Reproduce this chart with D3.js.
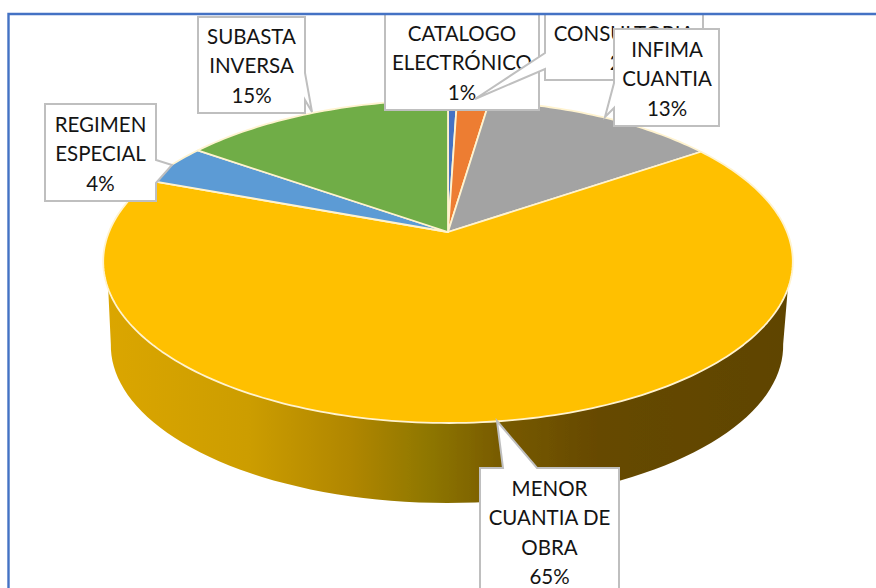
<!DOCTYPE html>
<html>
<head>
<meta charset="utf-8">
<script src="https://cdn.jsdelivr.net/npm/d3@7"></script>
<style>
  html, body { margin: 0; padding: 0; background: #fff; }
  svg { display: block; }
  .callout text { font-family: Lato, "Open Sans", sans-serif; font-size: 20.5px; fill: #141414; text-anchor: middle; }
</style>
</head>
<body>
<div id="chart"></div>
<script>
// data, slice sizes estimated from the drawn angles
var categories = ['CATALOGO ELECTRÓNICO', 'CONSULTORIA', 'INFIMA CUANTIA', 'MENOR CUANTIA DE OBRA', 'REGIMEN ESPECIAL', 'SUBASTA INVERSA'];
var values = [0.5, 1.8, 13.1, 65.3, 4.1, 15.2];
var percentLabels = ['1%', '2%', '13%', '65%', '4%', '15%'];
var colors = ['#4472c4', '#ed7d31', '#a3a3a3', '#ffc000', '#5b9bd5', '#70ad47'];
var labelLines = [
  ['CATALOGO', 'ELECTRÓNICO'],
  ['CONSULTORIA'],
  ['INFIMA', 'CUANTIA'],
  ['MENOR', 'CUANTIA DE', 'OBRA'],
  ['REGIMEN', 'ESPECIAL'],
  ['SUBASTA', 'INVERSA']
];

var width = 876, height = 588;

// callout boxes: x0,y0,x1,y1, pointer tip and the two pointer roots on the box edge
var calloutBoxes = [
  {x0: 385, y0: 14, x1: 539, y1: 110, textX: 462, textY: 41},
  {x0: 545, y0: 14, x1: 703, y1: 80, textX: 624, textY: 41, tip: [475, 99], root: [[545, 53], [545, 69]], side: 'left'},
  {x0: 614, y0: 29, x1: 719, y1: 126, textX: 667, textY: 57, tip: [605, 117], root: [[614, 83], [614, 108]], side: 'left'},
  {x0: 480, y0: 468, x1: 619, y1: 600, textX: 549.5, textY: 496, tip: [497, 421], root: [[503, 468], [537, 468]], side: 'top'},
  {x0: 45, y0: 104, x1: 156, y1: 201, textX: 100.5, textY: 132, tip: [172, 165], root: [[156, 160], [156, 183]], side: 'right'},
  {x0: 198, y0: 17, x1: 305, y1: 113, textX: 251.5, textY: 44, tip: [312, 112], root: [[305, 73], [305, 100]], side: 'right'}
];
var lineStep = 29.4;

var svg = d3.select('#chart').append('svg')
  .attr('width', width)
  .attr('height', height);

var defs = svg.append('defs');
defs.append('filter').attr('id', 'soft')
  .append('feGaussianBlur').attr('stdDeviation', 0.6);

// wall shading runs left to right
var wallGrad = defs.append('linearGradient')
  .attr('id', 'wall')
  .attr('gradientUnits', 'userSpaceOnUse')
  .attr('x1', 105).attr('x2', 790).attr('y1', 0).attr('y2', 0);
[[0, '#dba600'], [0.21, '#cc9d00'], [0.36, '#b08600'], [0.47, '#8f7700'], [0.58, '#775a00'], [0.72, '#664900'], [1, '#5f4400']]
  .forEach(function(s) {
    wallGrad.append('stop').attr('offset', s[0]).attr('stop-color', s[1]);
  });

// perspective projection of the pie disc, angle is clockwise from the top
var k = -0.1827;
var top3d = function(a) {
  var u = Math.sin(a), v = -Math.cos(a), w = 1 + k * v;
  return [448 + 339 * u / w, 232 + 156.1 * v / w];
};
var bottom3d = function(a) {
  var p = top3d(a);
  return [447 + (p[0] - 448) * 0.975, 345 + (p[1] - 261) * 0.975];
};
var rad = function(d) { return d * Math.PI / 180; };
var line = d3.line();

var pie = d3.pie().sort(null).value(function(d) { return d; });
var slices = pie(values);

var plot = svg.append('g').attr('filter', 'url(#soft)');

// side wall of the disc
var wallPts = d3.range(110, 250.5, 2).map(function(d) { return top3d(rad(d)); })
  .concat(d3.range(260, 99.5, -2).map(function(d) { return bottom3d(rad(d)); }));
plot.append('path')
  .attr('d', line(wallPts) + 'Z')
  .attr('fill', 'url(#wall)');

// top face slices
plot.selectAll('path.slice')
  .data(slices)
  .enter().append('path')
  .attr('class', 'slice')
  .attr('fill', function(d, i) { return colors[i]; })
  .attr('stroke', '#fff3cf')
  .attr('stroke-width', 1.8)
  .attr('stroke-linejoin', 'round')
  .attr('d', function(d) {
    var n = Math.max(2, Math.ceil((d.endAngle - d.startAngle) / 0.02));
    var pts = d3.range(n + 1).map(function(i) {
      return top3d(d.startAngle + (d.endAngle - d.startAngle) * i / n);
    });
    return line([[448, 232]].concat(pts)) + 'Z';
  });

// callouts, later ones cover earlier ones
var callout = svg.selectAll('g.callout')
  .data(calloutBoxes)
  .enter().append('g')
  .attr('class', 'callout');

callout.append('path')
  .attr('fill', '#fff')
  .attr('stroke', '#bfbfbf')
  .attr('stroke-width', 2)
  .attr('stroke-linejoin', 'miter')
  .attr('d', function(b) {
    var nw = [b.x0, b.y0], ne = [b.x1, b.y0], se = [b.x1, b.y1], sw = [b.x0, b.y1];
    var pts;
    if (b.side === 'left') pts = [nw, ne, se, sw, b.root[1], b.tip, b.root[0]];
    else if (b.side === 'right') pts = [nw, ne, b.root[0], b.tip, b.root[1], se, sw];
    else if (b.side === 'top') pts = [nw, b.root[0], b.tip, b.root[1], ne, se, sw];
    else pts = [nw, ne, se, sw];
    return line(pts) + 'Z';
  });

callout.each(function(b, i) {
  var g = d3.select(this);
  labelLines[i].concat([percentLabels[i]]).forEach(function(t, j) {
    g.append('text')
      .attr('x', b.textX)
      .attr('y', b.textY + j * lineStep)
      .text(t);
  });
});

// chart frame, only top and left show in the crop
svg.append('rect').attr('x', 0).attr('y', 0).attr('width', width).attr('height', 13).attr('fill', '#fff');
svg.append('path')
  .attr('d', line([[8.5, height], [8.5, 14], [width, 14]]))
  .attr('fill', 'none')
  .attr('stroke', '#4472c4')
  .attr('stroke-width', 2.4);
</script>
</body>
</html>
